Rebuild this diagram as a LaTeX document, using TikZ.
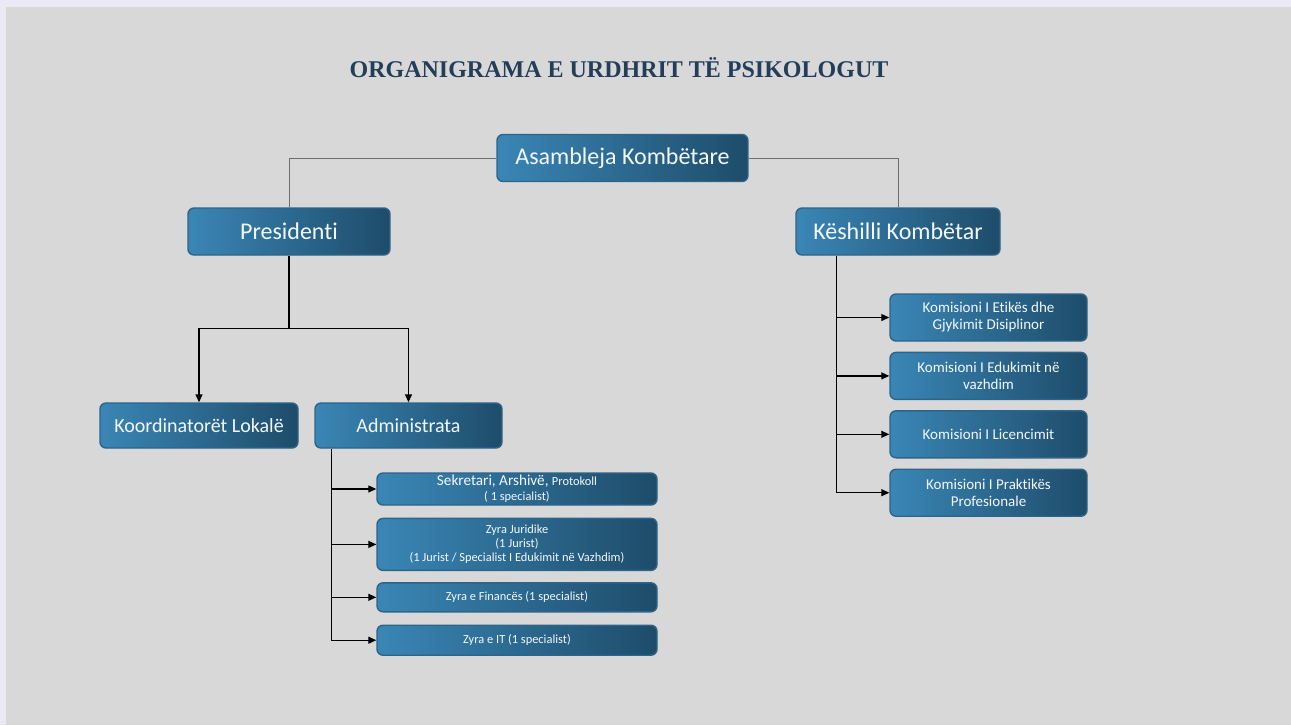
\documentclass[tikz,border=0pt]{standalone}
\usepackage{fontspec}
\setmainfont{Carlito}[Ligatures=NoCommon]
\newfontfamily\titlefont{Liberation Serif}
\usetikzlibrary{positioning,arrows.meta}
\definecolor{pagelav}{RGB}{235,233,244}
\definecolor{pagegrey}{RGB}{216,216,216}
\definecolor{boxleft}{RGB}{58,134,182}
\definecolor{boxright}{RGB}{30,76,106}
\definecolor{boxedge}{RGB}{44,100,138}
\definecolor{titleblue}{RGB}{36,62,90}
\definecolor{greyline}{RGB}{110,110,110}
\tikzset{%
    unit/.style={rounded corners=3pt, draw=boxedge, line width=0.7pt, left color=boxleft, right color=boxright, text=white!94!boxleft, inner sep=1pt, align=center},
    topunit/.style={unit, minimum height=23.5pt, font=\fontsize{12}{14}\selectfont},
    midunit/.style={unit, minimum height=22.5pt, font=\fontsize{10}{12}\selectfont},
    komunit/.style={unit, minimum width=98.5pt, minimum height=23.5pt, font=\fontsize{7.5}{8.5}\selectfont},
    officeunit/.style={unit, minimum width=140pt, font=\fontsize{6.2}{7}\selectfont},
    link/.style={line width=0.6pt, -{Triangle[length=4pt,width=3.5pt]}},
    greylink/.style={line width=0.5pt, greyline},
}

\begin{document}
\begin{tikzpicture}

    % page
    \fill[pagelav] (0,0) rectangle (645.5pt,-362.5pt);
    \fill[pagegrey] (3pt,-3.5pt) rectangle (645.5pt,-362.5pt);
    \useasboundingbox (0,0) rectangle (645.5pt,-362.5pt);

    % title
    \node[anchor=base, text=titleblue, font=\titlefont\bfseries\fontsize{12}{14}\selectfont] (title) at (309.5pt,-38.5pt) {ORGANIGRAMA E URDHRIT TË PSIKOLOGUT};

    % top levels
    \node[topunit, minimum width=125.5pt] (ak) at (311.25pt,-79pt) {Asambleja Kombëtare};
    \node[topunit, minimum width=101pt] (pres) at (144.5pt,-115.75pt) {Presidenti};
    \node[topunit, minimum width=102pt] (kk) at (449pt,-115.75pt) {Këshilli Kombëtar};

    \node[midunit, minimum width=99pt] (kl) at (99.5pt,-212.75pt) {Koordinatorët Lokalë};
    \node[midunit, minimum width=93.5pt] (adm) at (204.25pt,-212.75pt) {Administrata};

    % offices
    \node[officeunit, minimum height=16pt, font=\fontsize{7.6}{7.5}\selectfont] (sek) at (258.5pt,-244.5pt) {Sekretari, Arshivë, {\fontsize{6.2}{7}\selectfont Protokoll}\\{\fontsize{6.2}{7}\selectfont( 1 specialist)}};
    \node[officeunit, minimum height=26pt, below=6pt of sek] (jur) {Zyra Juridike\\(1 Jurist)\\(1 Jurist / Specialist I Edukimit në Vazhdim)};
    \node[officeunit, minimum height=14.5pt, below=5.5pt of jur] (fin) {Zyra e Financës (1 specialist)};
    \node[officeunit, minimum height=15pt, below=6pt of fin] (it) {Zyra e IT (1 specialist)};

    % commissions
    \node[komunit] (etika) at (494.25pt,-158.75pt) {Komisioni I Etikës dhe\\Gjykimit Disiplinor};
    \node[komunit, below=5pt of etika] (edu) {Komisioni I Edukimit në\\vazhdim};
    \node[komunit, below=5pt of edu] (lic) {Komisioni I Licencimit};
    \node[komunit, below=5pt of lic] (prak) {Komisioni I Praktikës\\Profesionale};

    % grey links
    \draw[greylink] (ak.west) -| (pres.north);
    \draw[greylink] (ak.east) -| (kk.north);

    % arrows
    \draw[line width=0.6pt] (pres.south) -- ++(0,-36.5pt) coordinate (presfork);
    \draw[link] (presfork) -| (kl.north);
    \draw[link] (presfork) -| (adm.north);

    \coordinate (admbus) at ([xshift=8.5pt]adm.south west);
    \draw[link] (admbus) |- (it.west);
    \foreach \unit in {sek,jur,fin}
        \draw[link] (admbus |- \unit.west) -- (\unit.west);

    \coordinate (kkbus) at ([xshift=20.5pt]kk.south west);
    \draw[link] (kkbus) |- (prak.west);
    \foreach \unit in {etika,edu,lic}
        \draw[link] (kkbus |- \unit.west) -- (\unit.west);

\end{tikzpicture}
\end{document}
